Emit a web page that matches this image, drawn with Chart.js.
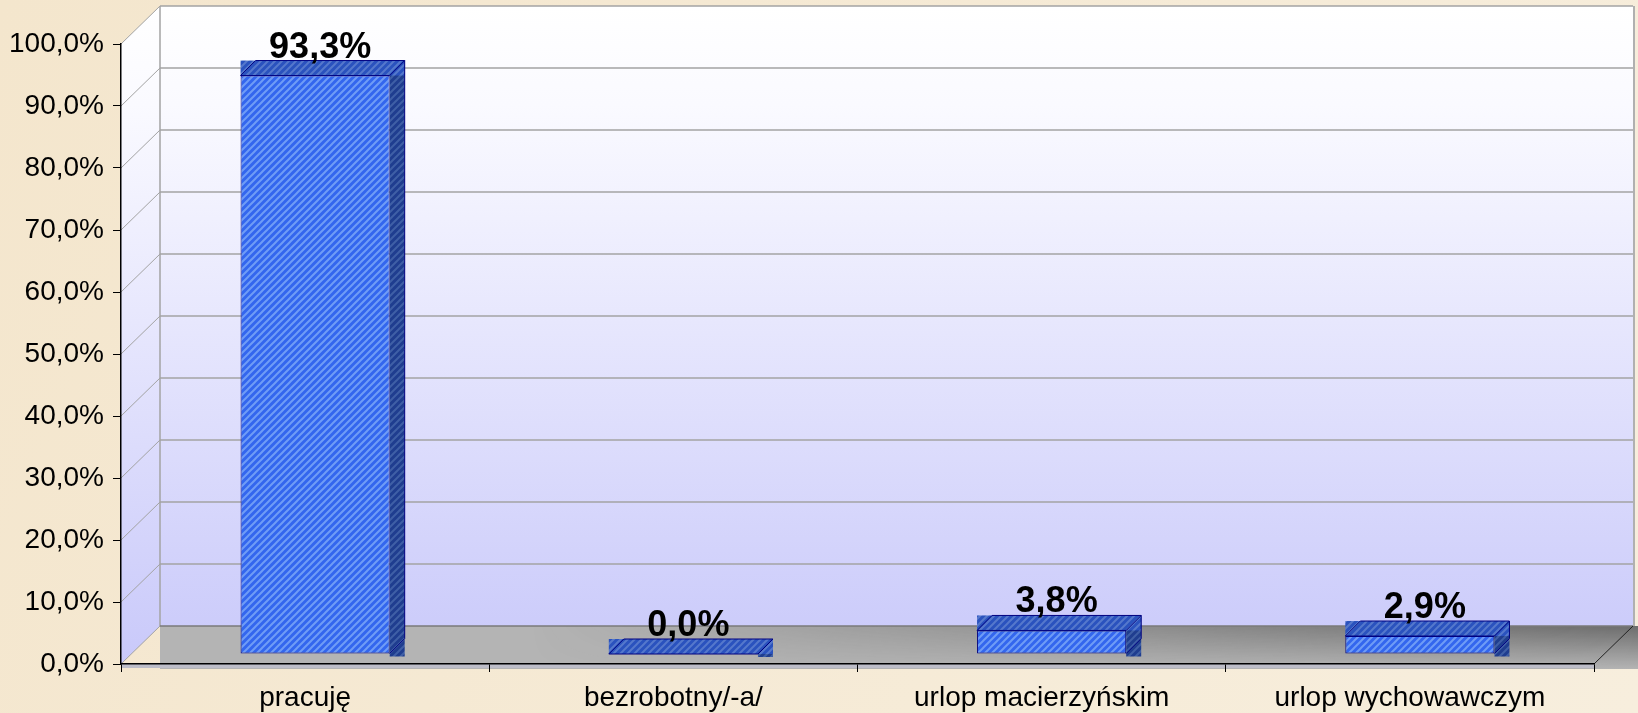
<!DOCTYPE html>
<html>
<head>
<meta charset="utf-8">
<script src="https://cdn.jsdelivr.net/npm/chart.js@4.4.1/dist/chart.umd.min.js"></script>
<style>
    html, body { margin: 0; padding: 0; background: #f5e9d4; }
    #wrap { width: 1638px; height: 713px; }
</style>
</head>
<body>
<div id="wrap"><canvas id="statusChart" width="1638" height="713"></canvas></div>
<script>
    var categories = ["pracuję", "bezrobotny/-a/", "urlop macierzyńskim", "urlop wychowawczym"];
    var values = [93.3, 0.0, 3.8, 2.9];
    var yTicks = [0, 10, 20, 30, 40, 50, 60, 70, 80, 90, 100];
    var yTickLabels = ["0,0%", "10,0%", "20,0%", "30,0%", "40,0%", "50,0%", "60,0%", "70,0%", "80,0%", "90,0%", "100,0%"];

    var FONT = "'Liberation Sans', Arial, sans-serif";
    var DX = 39, DY = 38;   // depth of the walls
    var BX = 10, BY = 10;   // bars stand a little behind the front edge
    var BD = 15;            // depth of one bar

    function hatch(base, stripe) {
        var c = document.createElement("canvas");
        c.width = 7; c.height = 7;
        var g = c.getContext("2d");
        g.fillStyle = base;
        g.fillRect(0, 0, 7, 7);
        g.strokeStyle = stripe;
        g.lineWidth = 2;
        g.beginPath();
        g.moveTo(0, 7); g.lineTo(7, 0);
        g.moveTo(-1, 1); g.lineTo(1, -1);
        g.moveTo(6, 8); g.lineTo(8, 6);
        g.stroke();
        return g.createPattern(c, "repeat");
    }

    var ctx0 = document.getElementById("statusChart").getContext("2d");
    var frontFill = hatch("#3366ee", "#6f9cf6");
    var topFill = hatch("#2a52be", "#5578cc");
    var sideFill = hatch("#1f3d8f", "#3f5fa6");

    var walls = {
        id: "walls",
        beforeDraw: function (chart) {
            var ctx = chart.ctx, a = chart.chartArea, y = chart.scales.y;
            var W = chart.width, H = chart.height;
            ctx.save();
            var bg = ctx.createLinearGradient(0, 0, W, H);
            bg.addColorStop(0, "#f4e6cd");
            bg.addColorStop(1, "#f7eedd");
            ctx.fillStyle = bg;
            ctx.fillRect(0, 0, W, H);

            var top = y.getPixelForValue(100), bot = y.getPixelForValue(0);
            var wg = ctx.createLinearGradient(0, top - DY, 0, bot);
            wg.addColorStop(0, "#ffffff");
            wg.addColorStop(0.15, "#fafaff");
            wg.addColorStop(1, "#c9c9fa");
            ctx.fillStyle = wg;
            // back wall
            ctx.fillRect(a.left + DX, top - DY, a.right - a.left, bot - top);
            // side wall
            ctx.beginPath();
            ctx.moveTo(a.left, top);
            ctx.lineTo(a.left + DX, top - DY);
            ctx.lineTo(a.left + DX, bot - DY);
            ctx.lineTo(a.left, bot);
            ctx.closePath();
            ctx.fill();

            // floor: flat grey, shaded darker towards the back on the right
            var fx = a.left + DX, fy = bot - DY, fw = W - fx, fh = DY + 5;
            ctx.fillStyle = "#b4b4b4";
            ctx.fillRect(fx, fy, fw, fh);
            var off = document.createElement("canvas");
            off.width = fw; off.height = fh;
            var o = off.getContext("2d");
            var vg = o.createLinearGradient(0, 0, 0, fh);
            vg.addColorStop(0, "rgba(50,50,50,0.55)");
            vg.addColorStop(1, "rgba(50,50,50,0)");
            o.fillStyle = vg;
            o.fillRect(0, 0, fw, fh);
            o.globalCompositeOperation = "destination-out";
            var hg = o.createLinearGradient(0, 0, fw, 0);
            hg.addColorStop(0, "rgba(0,0,0,1)");
            hg.addColorStop(0.25, "rgba(0,0,0,1)");
            hg.addColorStop(1, "rgba(0,0,0,0)");
            o.fillStyle = hg;
            o.fillRect(0, 0, fw, fh);
            ctx.drawImage(off, fx, fy);
            ctx.fillStyle = "#bdbdc8";
            ctx.fillRect(a.left, bot, a.right - a.left, 4);

            // grid lines on back and side walls
            ctx.strokeStyle = "#a3a3a3";
            yTicks.forEach(function (v) {
                var py = y.getPixelForValue(v);
                ctx.lineWidth = 1.5;
                if (v > 0) {
                    ctx.beginPath();
                    ctx.moveTo(a.left + DX, py - DY);
                    ctx.lineTo(a.right + DX, py - DY);
                    ctx.stroke();
                }
                ctx.lineWidth = 1;
                ctx.beginPath();
                ctx.moveTo(a.left, py);
                ctx.lineTo(a.left + DX, py - DY);
                ctx.stroke();
            });
            ctx.lineWidth = 1.5;
            ctx.beginPath();
            ctx.moveTo(a.left + DX, bot - DY);
            ctx.lineTo(a.left + DX, top - DY);
            ctx.stroke();
            ctx.strokeStyle = "#b0b0b0";
            ctx.lineWidth = 2;
            ctx.beginPath();
            ctx.moveTo(a.right + DX + 1, top - DY);
            ctx.lineTo(a.right + DX + 1, bot - DY);
            ctx.stroke();
            ctx.strokeStyle = "#7a7a7a";
            ctx.lineWidth = 1.5;
            ctx.beginPath();
            ctx.moveTo(a.left + DX, bot - DY);
            ctx.lineTo(a.right + DX, bot - DY);
            ctx.stroke();
            ctx.strokeStyle = "#222";
            ctx.lineWidth = 1;
            ctx.beginPath();
            ctx.moveTo(a.right, bot);
            ctx.lineTo(a.right + DX, bot - DY);
            ctx.stroke();
            ctx.restore();
        },
        beforeDatasetsDraw: function (chart) {
            chart.ctx.save();
            chart.ctx.translate(BX, -BY);
        },
        afterDatasetsDraw: function (chart) {
            var ctx = chart.ctx;
            ctx.restore();
            ctx.save();
            var meta = chart.getDatasetMeta(0);
            meta.data.forEach(function (bar, i) {
                var L = bar.x - bar.width / 2 + BX, R = bar.x + bar.width / 2 + BX;
                var T = bar.y - BY, B = bar.base - BY;
                // side face
                ctx.fillStyle = sideFill;
                ctx.fillRect(R, T - BD, BD, B - T + BD + 3);
                // top face
                ctx.fillStyle = topFill;
                ctx.fillRect(L, T - BD, R - L + BD, BD);
                ctx.strokeStyle = "#000080";
                ctx.lineWidth = 1;
                ctx.beginPath();
                ctx.moveTo(L, T);
                ctx.lineTo(L + BD, T - BD);
                ctx.lineTo(R + BD, T - BD);
                ctx.lineTo(R, T);
                ctx.closePath();
                ctx.moveTo(R + BD, T - BD);
                ctx.lineTo(R + BD, B - BD);
                ctx.lineTo(R, B);
                ctx.stroke();

                ctx.fillStyle = "#000";
                ctx.font = "bold 36px " + FONT;
                ctx.textAlign = "center";
                ctx.textBaseline = "alphabetic";
                ctx.fillText(values[i].toFixed(1).replace(".", ",") + "%", bar.x + BX + 5, T - BD - 3);
            });
            ctx.restore();
        }
    };

    var statusChart = new Chart(ctx0, {
        type: "bar",
        data: {
            labels: categories,
            datasets: [{
                data: values,
                backgroundColor: frontFill,
                borderColor: "#000080",
                borderWidth: 1,
                borderSkipped: false,
                barPercentage: 0.405,
                categoryPercentage: 1
            }]
        },
        options: {
            responsive: false,
            animation: false,
            layout: { padding: { left: 0, top: 44, right: 44, bottom: 0 } },
            plugins: { legend: { display: false }, tooltip: { enabled: false } },
            scales: {
                x: {
                    grid: { offset: true, drawOnChartArea: false, color: "#000", tickLength: 8 },
                    border: { color: "#000", width: 1.5 },
                    ticks: { color: "#000", font: { family: FONT, size: 28 }, padding: 9, maxRotation: 0 },
                    afterFit: function (s) { s.height = 49; }
                },
                y: {
                    min: 0,
                    max: 100,
                    afterBuildTicks: function (s) { s.ticks = yTicks.map(function (v) { return { value: v }; }); },
                    grid: { drawOnChartArea: false, color: "#000", tickLength: 8 },
                    border: { color: "#000", width: 1.5 },
                    ticks: {
                        color: "#000",
                        font: { family: FONT, size: 28 },
                        padding: 9,
                        callback: function (v, i) { return yTickLabels[i]; }
                    },
                    afterFit: function (s) { s.width = 121; }
                }
            }
        },
        plugins: [walls]
    });
</script>
</body>
</html>
